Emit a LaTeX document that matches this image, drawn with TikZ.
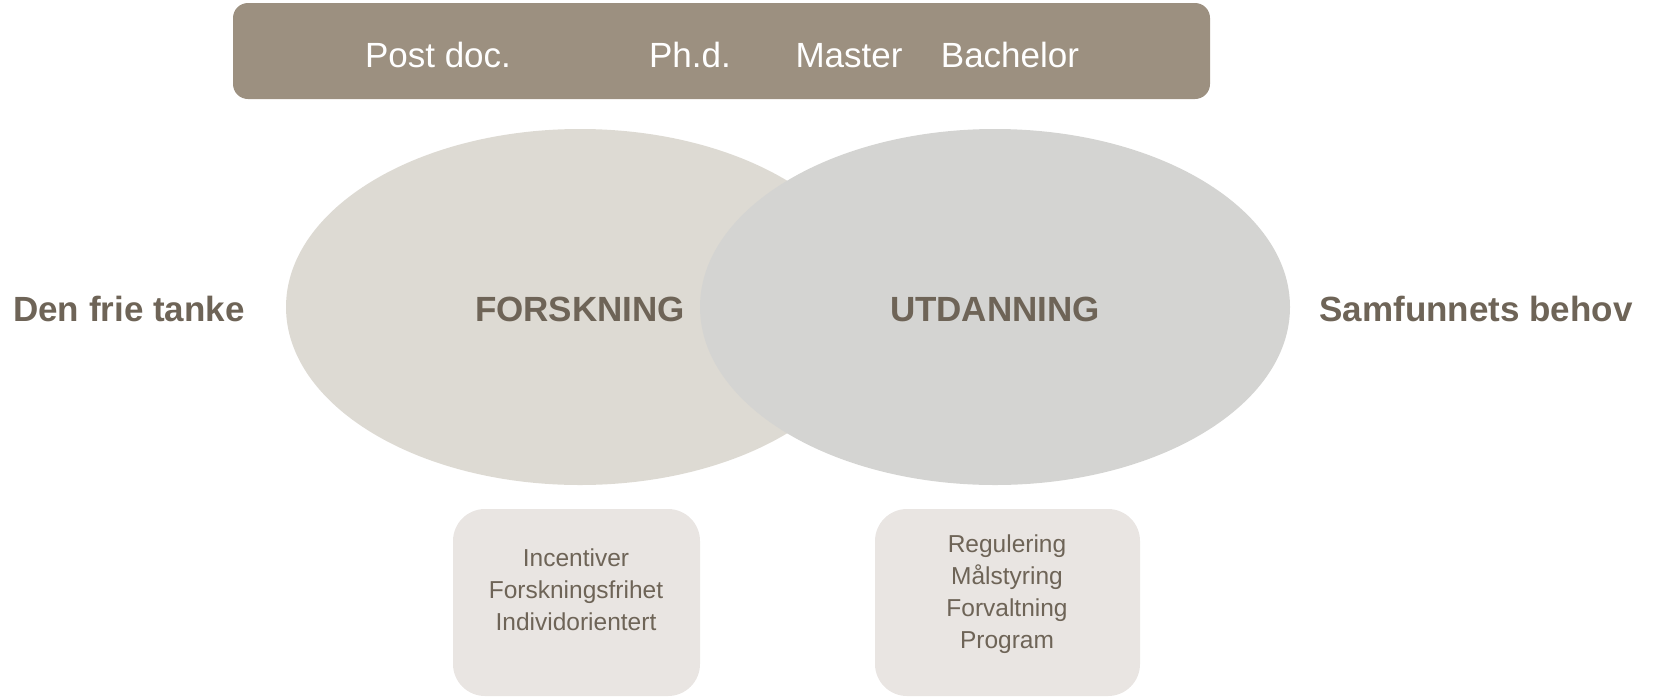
\documentclass[tikz,border=0pt]{standalone}
\usepackage{fontspec}
\setmainfont{Liberation Sans}
\definecolor{barc}{HTML}{9C9080}
\definecolor{ellL}{HTML}{DDDAD3}
\definecolor{ellR}{HTML}{D4D4D2}
\definecolor{boxc}{HTML}{E9E5E2}
\definecolor{txt}{HTML}{6E6457}
\tikzset{
  bartext/.style={anchor=base, text=white, font=\fontsize{35}{40}\selectfont, inner sep=0pt},
  bigtext/.style={anchor=base, text=txt, font=\fontsize{35}{40}\selectfont\bfseries, inner sep=0pt},
  smalltext/.style={anchor=base, text=txt, font=\fontsize{24.5}{32}\selectfont, inner sep=0pt},
}
\begin{document}
\begin{tikzpicture}[x=1pt,y=-1pt]
\useasboundingbox (0,0) rectangle (1662,697);
% top bar
\fill[barc, rounded corners=15pt] (233,3) rectangle (1210,99);
\node[bartext] (pd) at (438,67) {Post doc.};
\node[bartext] (phd) at (690,67) {Ph.d.};
\node[bartext] (ms) at (849,67) {Master};
\node[bartext] (ba) at (1010,67) {Bachelor};
% ellipses
\fill[ellL] (580,307) ellipse [x radius=294, y radius=178];
\fill[ellR] (995,307) ellipse [x radius=295, y radius=178];
\node[bigtext] (fo) at (580,321) {FORSKNING};
\node[bigtext] (ut) at (995,321) {UTDANNING};
\node[bigtext] (dft) at (129,321) {Den frie tanke};
\node[bigtext] (sb) at (1476,321) {Samfunnets behov};
% boxes
\fill[boxc, rounded corners=32pt] (453,509) rectangle (700,696);
\fill[boxc, rounded corners=32pt] (875,509) rectangle (1140,696);
\node[smalltext] (l1) at (576,566) {Incentiver};
\node[smalltext] (l2) at (576,598) {Forskningsfrihet};
\node[smalltext] (l3) at (576,630) {Individorientert};
\node[smalltext] (r1) at (1007,552) {Regulering};
\node[smalltext] (r2) at (1007,584) {Målstyring};
\node[smalltext] (r3) at (1007,616) {Forvaltning};
\node[smalltext] (r4) at (1007,648) {Program};
\end{tikzpicture}
\end{document}
